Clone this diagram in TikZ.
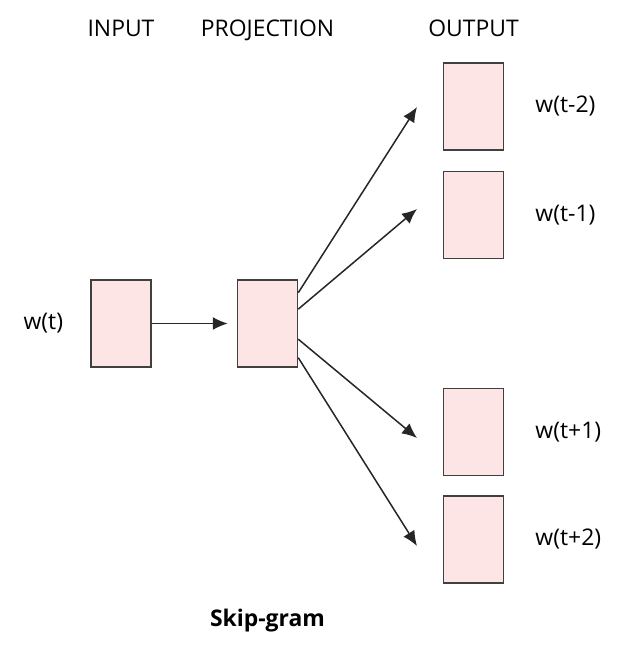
\documentclass[tikz,border=0pt]{standalone}
\usepackage{fontspec}
\setmainfont{Open Sans}
\usetikzlibrary{arrows.meta,positioning}
\definecolor{boxfill}{HTML}{FDE4E5}
\definecolor{boxline}{HTML}{404040}
\begin{document}
\begin{tikzpicture}[x=1bp,y=-1bp,>={Latex[length=15bp,width=13bp]},
    wordbox/.style={draw=boxline,fill=boxfill,line width=1.5bp,minimum width=60bp,minimum height=87bp,inner sep=0pt},
    wordlabel/.style={inner sep=0pt,font=\fontsize{23}{28}\selectfont},
    link/.style={->,line width=1.5bp,draw=black!85}]
            \useasboundingbox (0,0) rectangle (641,662);

            % the boxes
            \node[wordbox] (in) at (121,323.5) {};
            \node[wordbox] (proj) at (267.5,323.5) {};
            \node[wordbox] (out1) at (473.5,106.5) {};
            \node[wordbox] (out2) at (473.5,215) {};
            \node[wordbox] (out3) at (473.5,432) {};
            \node[wordbox] (out4) at (473.5,539.5) {};

            % column titles
            \node[wordlabel,anchor=base] (tin) at (121,37) {INPUT};
            \node[wordlabel,anchor=base] (tproj) at (267.5,37) {PROJECTION};
            \node[wordlabel,anchor=base] (tout) at (473.5,37) {OUTPUT};

            % words
            \node[wordlabel,left=27bp of in] (win) {w(t)};
            \node[wordlabel,right=31bp of out1] (w1) {w(t-2)};
            \node[wordlabel,right=31bp of out2] (w2) {w(t-1)};
            \node[wordlabel,right=31bp of out3] (w3) {w(t+1)};
            \node[wordlabel,right=31bp of out4] (w4) {w(t+2)};

            % arrow tips
            \coordinate (tip1) at (417,107);
            \coordinate (tip2) at (417,209);
            \coordinate (tip3) at (417,438);
            \coordinate (tip4) at (417,546);

            %input to projection
            \draw[link,shorten >=9bp] (in.east) -- (proj.west);

            %projection to output
            \draw[link] (proj.45) -- (tip1);
            \draw[link] (proj.25) -- (tip2);
            \draw[link] (proj.-27) -- (tip3);
            \draw[link] (proj.-48) -- (tip4);

            % caption
            \node[wordlabel,anchor=base,font=\fontsize{23}{28}\selectfont\bfseries] (cap) at (267.5,626) {Skip-gram};
        \end{tikzpicture}
\end{document}
